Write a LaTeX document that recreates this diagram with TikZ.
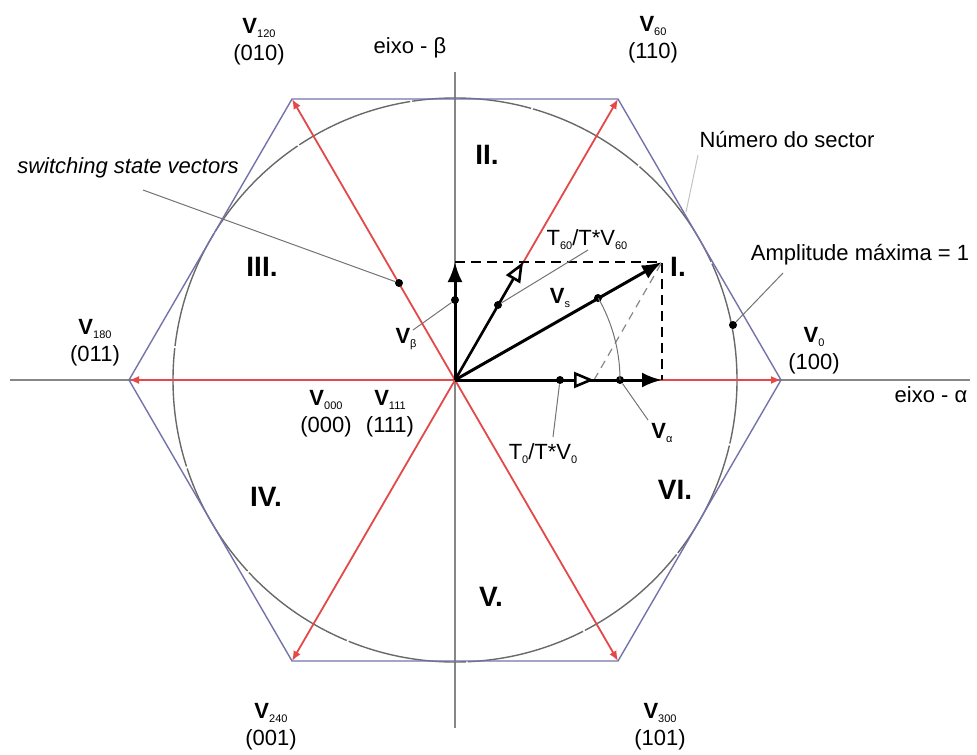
\documentclass[tikz,border=0pt]{standalone}
\usepackage{fontspec}
\setmainfont{Liberation Sans}
\usetikzlibrary{arrows.meta}
\definecolor{hexblue}{RGB}{115,115,170}
\definecolor{vred}{RGB}{228,72,72}
\definecolor{axgrey}{RGB}{135,135,135}
\definecolor{circgrey}{RGB}{105,105,105}
\newcommand{\vlab}[1]{\textbf{V}\raisebox{-2pt}{\fontsize{5.5}{6}\selectfont #1}}
\newcommand{\tlab}[1]{T\raisebox{-2pt}{\fontsize{5.5}{6}\selectfont #1}}
\newcommand{\vthin}[1]{V\raisebox{-2pt}{\fontsize{5.5}{6}\selectfont #1}}
\begin{document}
\begin{tikzpicture}[x=0.5pt,y=-0.5pt,
  lbl/.style={font=\fontsize{11}{13.5}\selectfont, align=center, inner sep=0pt},
  seclbl/.style={font=\fontsize{14}{15}\selectfont\bfseries, inner sep=0pt},
  dot/.style={circle, fill=black, inner sep=0pt, minimum size=4pt},
  leader/.style={draw=axgrey!85!black, line width=0.5pt},
  redvec/.style={draw=vred, line width=0.9pt, -{Latex[length=5pt,width=4pt]}},
  blackvec/.style={line width=1.5pt, -{Latex[length=10pt,width=7.5pt]}},
  hollowvec/.style={line width=1.3pt, -{Triangle[length=10pt,width=8pt,fill=white]}}
]
\useasboundingbox (0,0) rectangle (977,754);
% key points
\coordinate (O) at (455,380);
\coordinate (H0) at (781,380);
\coordinate (H60) at (618,99);
\coordinate (H120) at (292,99);
\coordinate (H180) at (129,380);
\coordinate (H240) at (292,661);
\coordinate (H300) at (618,661);
\coordinate (axL) at (10,380);
\coordinate (axR) at (970,380);
\coordinate (axT) at (455,72);
\coordinate (axB) at (455,728);
% axes
\draw[axgrey, line width=0.6pt] (axL) -- (axR);
\draw[axgrey, line width=0.6pt] (axT) -- (axB);
% circle and hexagon
\draw[circgrey, line width=0.7pt, dash pattern=on 60pt off 1pt] (O) circle (141pt);
\draw[hexblue, line width=0.7pt] (H0) -- (H60) -- (H120) -- (H180) -- (H240) -- (H300) -- cycle;
% red switching state vectors
\foreach \h in {H0,H60,H120,H180,H240,H300} \draw[redvec] (O) -- (\h);
% reference vector construction
\coordinate (Vs) at (662,262);
\coordinate (Va) at (662,380);
\coordinate (Vb) at (455,262);
\coordinate (T60) at (523,262);
\coordinate (T0) at (594,380);
\draw[line width=1pt, dash pattern=on 5pt off 3pt] (Vb) -- (Vs) -- (Va);
\draw[axgrey, line width=0.6pt, dash pattern=on 4pt off 3pt] (T0) -- (Vs);
\draw[blackvec] (O) -- (Va);
\draw[blackvec] (O) -- (Vb);
\draw[blackvec] (O) -- (Vs);
\draw[hollowvec] (O) -- (T60);
\draw[hollowvec] (O) -- (T0);
% dots
\node[dot] (dVb) at (455,300) {};
\node[dot] (dT60) at (498,305) {};
\node[dot] (dVs) at (598,298) {};
\node[dot] (dT0) at (560,380) {};
\node[dot] (dVa) at (620,380) {};
\node[dot] (dSw) at (399,283) {};
\node[dot] (dAmp) at (733,325) {};
% angle arc
\draw[leader] (dVa.center) arc[start angle=0, end angle=29.7, radius=82.5pt];
% labels
\node[lbl] (L120) at (259,42) {\vlab{120}\\(010)};
\node[lbl] (L60) at (653,40) {\vlab{60}\\(110)};
\node[lbl] (L180) at (95,343) {\vlab{180}\\(011)};
\node[lbl] (L0) at (814,351) {\vlab{0}\\(100)};
\node[lbl] (L240) at (271,727) {\vlab{240}\\(001)};
\node[lbl] (L300) at (660,727) {\vlab{300}\\(101)};
\node[lbl] (L000) at (326,414) {\vlab{000}\\(000)};
\node[lbl] (L111) at (390,414) {\vlab{111}\\(111)};
\node[lbl] (eb) at (410,48) {eixo - β};
\node[lbl] (ea) at (931,395) {eixo - α};
\node[lbl, font=\fontsize{11}{13}\selectfont\itshape] (sw) at (128,168) {switching state vectors};
\node[lbl] (ns) at (787,140) {Número do sector};
\node[lbl] (am) at (860,255) {Amplitude máxima = 1};
\node[seclbl] (S1) at (678,267) {I.};
\node[seclbl] (S2) at (487,155) {II.};
\node[seclbl] (S3) at (262,267) {III.};
\node[seclbl] (S4) at (266,497) {IV.};
\node[seclbl] (S5) at (491,597) {V.};
\node[seclbl] (S6) at (675,490) {VI.};
\node[lbl] (lVb) at (406,339) {\vlab{β}};
\node[lbl] (lVs) at (560,298) {\vlab{s}};
\node[lbl] (lVa) at (662,433) {\vlab{α}};
\node[lbl] (lT60) at (587,240) {\tlab{60}/T*\vthin{60}};
\node[lbl] (lT0) at (543,454) {\tlab{0}/T*\vthin{0}};
% leaders
\coordinate (swEnd) at (143,190);
\coordinate (amEnd) at (783,273);
\coordinate (nsA) at (698,155);
\coordinate (nsB) at (686,212);
\coordinate (vbEnd) at (413,330);
\coordinate (t60End) at (588,250);
\coordinate (t0End) at (553,437);
\coordinate (vaEnd) at (648,420);
\draw[leader] (swEnd) -- (dSw);
\draw[leader] (amEnd) -- (dAmp);
\draw[leader, draw=axgrey!50] (nsA) -- (nsB);
\draw[leader] (vbEnd) -- (dVb);
\draw[leader] (dT60) -- (t60End);
\draw[leader] (t0End) -- (dT0);
\draw[leader] (dVa) -- (vaEnd);
\end{tikzpicture}
\end{document}
